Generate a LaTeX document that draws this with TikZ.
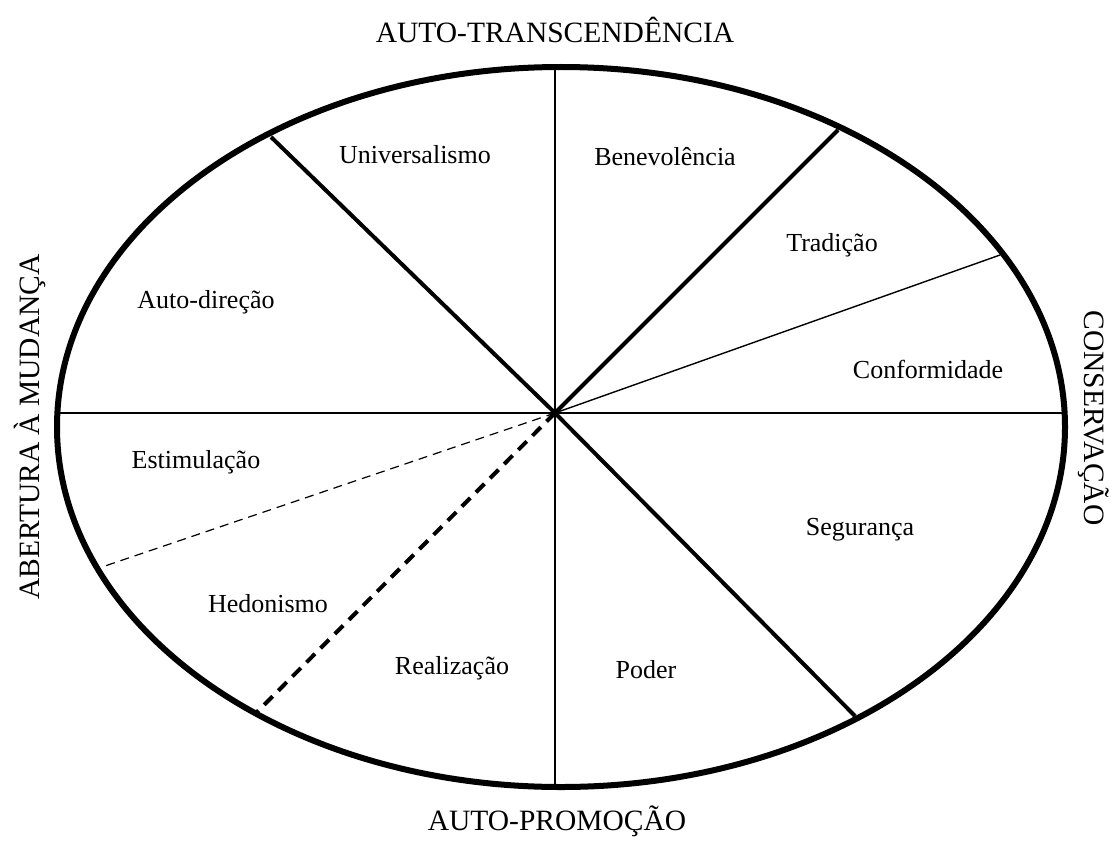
\documentclass[tikz,border=0pt]{standalone}
\usepackage{fontspec}
\setmainfont{Liberation Serif}
\begin{document}
\begin{tikzpicture}[x=1pt,y=-1pt,
  lbl/.style={font=\fontsize{26}{30}\selectfont, inner sep=0pt},
  ttl/.style={font=\fontsize{29.5}{34}\selectfont, inner sep=0pt},
  rim/.style={line width=6pt},
  thickdiv/.style={line width=4pt},
  thindiv/.style={line width=1.4pt},
  thindash/.style={line width=1.2pt, dash pattern=on 9pt off 6pt},
  thickdash/.style={line width=4pt, dash pattern=on 12pt off 8pt}]
\useasboundingbox (0,0) rectangle (1115,840);
\fill[white] (0,0) rectangle (1115,840);
% key points
\coordinate (c) at (555,413);
\coordinate (top) at (555,67);
\coordinate (bot) at (555,787);
\coordinate (lft) at (57,413);
\coordinate (rgt) at (1066,413);
\coordinate (ul) at (271,137);
\coordinate (ur) at (838,130);
\coordinate (lr) at (855,716);
\coordinate (ll) at (257,712);
\coordinate (tr) at (1000,255);
\coordinate (tl) at (102,567);
% divisions
\draw[thindiv] (top) -- (bot);
\draw[thindiv] (lft) -- (rgt);
\draw[thickdiv] (ul) -- (c);
\draw[thickdiv] (c) -- (lr);
\draw[thickdiv] (c) -- (ur);
\draw[thindiv] (c) -- (tr);
\draw[thindash] (c) -- (tl);
\draw[thickdash] (c) -- (ll);
% rim
\draw[rim] (561,427) ellipse [x radius=504, y radius=360];
% labels
\node[lbl] (univ) at (415,155) {Universalismo};
\node[lbl] (bene) at (665,157) {Benevolência};
\node[lbl] (trad) at (832,245) {Tradição};
\node[lbl] (autod) at (206,302) {Auto-direção};
\node[lbl] (conf) at (928,369) {Conformidade};
\node[lbl] (estim) at (196,462) {Estimulação};
\node[lbl] (seg) at (860,530) {Segurança};
\node[lbl] (hed) at (268,604) {Hedonismo};
\node[lbl] (real) at (452,668) {Realização};
\node[lbl] (pod) at (646,670) {Poder};
% axes titles
\node[ttl] (at) at (555,30) {AUTO-TRANSCENDÊNCIA};
\node[ttl] (ap) at (557,821) {AUTO-PROMOÇÃO};
\node[ttl, rotate=90] (am) at (30,427) {ABERTURA À MUDANÇA};
\node[ttl, rotate=-90] (cs) at (1094,418) {CONSERVAÇÃO};
\end{tikzpicture}
\end{document}
